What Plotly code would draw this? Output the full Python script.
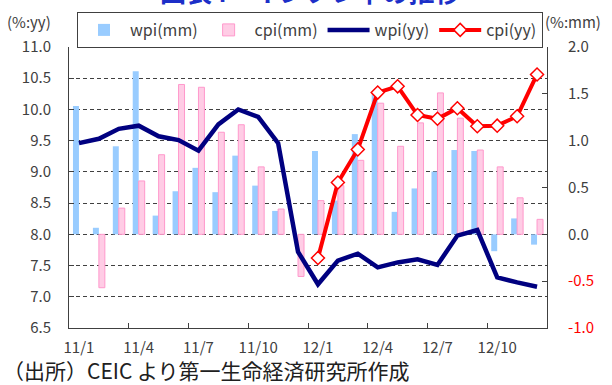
import plotly.graph_objects as go

# Monthly observations, Jan 2011 - Dec 2012
months = ["11/1", "11/2", "11/3", "11/4", "11/5", "11/6", "11/7", "11/8", "11/9", "11/10", "11/11", "11/12",
          "12/1", "12/2", "12/3", "12/4", "12/5", "12/6", "12/7", "12/8", "12/9", "12/10", "12/11", "12/12"]
tick_labels = ["11/1", "11/4", "11/7", "11/10", "12/1", "12/4", "12/7", "12/10"]

wpi_mm = [1.37, 0.07, 0.94, 1.74, 0.20, 0.46, 0.71, 0.45, 0.84, 0.52, 0.25, 0.0,
          0.89, 0.36, 1.07, 1.51, 0.24, 0.49, 0.67, 0.90, 0.89, -0.18, 0.17, -0.11]
cpi_mm = [None, -0.57, 0.28, 0.57, 0.85, 1.60, 1.57, 1.09, 1.17, 0.72, 0.27, -0.45,
          0.36, 0.52, 0.79, 1.40, 0.94, 1.19, 1.51, 1.24, 0.90, 0.72, 0.39, 0.16]
wpi_yy = [9.46, 9.53, 9.69, 9.74, 9.57, 9.51, 9.34, 9.76, 10.0, 9.88, 9.46, 7.72,
          7.20, 7.58, 7.69, 7.47, 7.55, 7.60, 7.51, 7.98, 8.07, 7.31, 7.23, 7.16]
cpi_yy = [None] * 12 + [7.62, 8.83, 9.36, 10.27, 10.37, 9.91, 9.85, 10.02, 9.73, 9.74, 9.89, 10.56]

right_ticks = [-1.0, -0.5, 0.0, 0.5, 1.0, 1.5, 2.0]

FONT = "Noto Sans CJK JP"
TXT = "#404040"

x = list(range(len(months)))

W, H = 612, 385
ML, MR, MT, MB = 69, 65, 47, 57
PW, PH = W - ML - MR, H - MT - MB


def px(xp):
    return (xp - ML) / PW


def py(yp):
    return (H - MB - yp) / PH


fig = go.Figure()
fig.add_trace(go.Bar(x=x, y=wpi_mm, name="wpi(mm)", yaxis="y",
                     marker=dict(color="#99CCFF", line=dict(width=0))))
fig.add_trace(go.Bar(x=x, y=cpi_mm, name="cpi(mm)", yaxis="y",
                     marker=dict(color="#FFCCE5", line=dict(color="#FF99CC", width=1))))
fig.add_trace(go.Scatter(x=x, y=wpi_yy, name="wpi(yy)", yaxis="y2", mode="lines",
                         line=dict(color="#000080", width=4.5)))
fig.add_trace(go.Scatter(x=x, y=cpi_yy, name="cpi(yy)", yaxis="y2", mode="lines+markers",
                         line=dict(color="#FF0000", width=4),
                         marker=dict(symbol="diamond", size=10, color="white",
                                     line=dict(color="#FF0000", width=1.5))))


def right_label(v):
    s = f"{v:.1f}"
    if v < 0:
        return f"<span style='color:#FF0000'>{s}</span>"
    return s


fig.update_layout(
    width=W, height=H,
    margin=dict(l=ML, r=MR, t=MT, b=MB, pad=0),
    paper_bgcolor="white", plot_bgcolor="white",
    font=dict(family=FONT, color=TXT, size=15),
    barmode="group", bargap=0.4, bargroupgap=0.0,
    showlegend=True,
    legend=dict(orientation="h", x=px(310), xanchor="center", y=py(12), yanchor="top",
                bordercolor="#404040", borderwidth=1, bgcolor="white",
                font=dict(size=16, color=TXT), traceorder="normal",
                itemwidth=42, tracegroupgap=0),
    xaxis=dict(range=[-0.5, 23.5], tickmode="array", tickvals=x[::3], ticktext=tick_labels,
               ticks="", showline=True, linecolor="#404040", linewidth=1,
               showgrid=False, zeroline=False, ticklabelstandoff=6,
               tickfont=dict(size=15, color=TXT),
               minor=dict(tickmode="array", tickvals=[i + 2.5 for i in range(0, 21, 3)],
                          ticks="inside", ticklen=5, tickcolor="#404040", showgrid=False)),
    yaxis=dict(range=[-1.0, 2.0], side="right", tickmode="array", tickvals=right_ticks,
               ticktext=[right_label(v) for v in right_ticks],
               ticks="inside", ticklen=5, tickcolor="#404040",
               showline=True, linecolor="#404040", linewidth=1,
               showgrid=False, zeroline=False, ticklabelstandoff=17,
               tickfont=dict(size=15, color=TXT)),
    yaxis2=dict(range=[6.5, 11.0], overlaying="y", side="left", dtick=0.5, tick0=6.5,
                tickformat=".1f", ticks="inside", ticklen=5, tickcolor="#404040",
                showline=True, linecolor="#404040", linewidth=1,
                showgrid=True, gridcolor="#404040", gridwidth=1.3, griddash="4px,3px",
                zeroline=False, ticklabelstandoff=14,
                tickfont=dict(size=15, color=TXT)),
)

annotations = [
    dict(text="(%:yy)", x=px(29), y=py(21), xanchor="center", yanchor="middle",
         font=dict(size=15, color=TXT)),
    dict(text="(%:mm)", x=px(573), y=py(21), xanchor="center", yanchor="middle",
         font=dict(size=15, color=TXT)),
    dict(text="（出所）CEIC より第一生命経済研究所作成", x=px(1), y=py(370),
         xanchor="left", yanchor="middle", font=dict(size=21, color="#202020")),
    dict(text="<b>図表4　インフレ率の推移</b>", x=px(310), y=py(-9), xanchor="center",
         yanchor="middle", font=dict(size=26, color="#1C2FC8")),
]
for a in annotations:
    a.update(xref="paper", yref="paper", showarrow=False)
fig.update_layout(annotations=annotations)

fig.write_html("out.html")
